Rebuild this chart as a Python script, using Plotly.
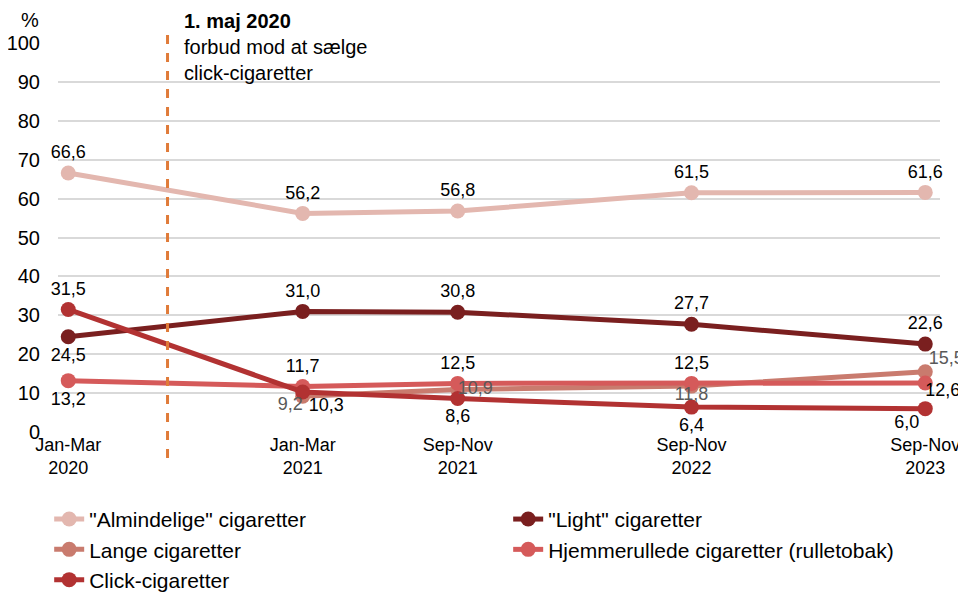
import plotly.graph_objects as go

periods = ["2020-02-15", "2021-02-15", "2021-10-15", "2022-10-15", "2023-10-15"]
period_labels = ["Jan-Mar<br>2020", "Jan-Mar<br>2021", "Sep-Nov<br>2021", "Sep-Nov<br>2022", "Sep-Nov<br>2023"]

almindelige = [66.6, 56.2, 56.8, 61.5, 61.6]
light = [24.5, 31.0, 30.8, 27.7, 22.6]
lange = [None, 9.2, 10.9, 11.8, 15.5]
hjemmerullede = [13.2, 11.7, 12.5, 12.5, 12.6]
click = [31.5, 10.3, 8.6, 6.4, 6.0]

ban_date = "2020-07-19"

FONT = "Liberation Sans, Arial, sans-serif"


def fmt(values):
    return ["" if v is None else f"{v:.1f}".replace(".", ",") for v in values]


# name, values, colour, label position, label gap (px, via hidden marker), label colour
series = [
    ('"Almindelige" cigaretter', almindelige, '#E3B7AF', ["top center"] * 5, [15] * 5, '#000000'),
    ('"Light" cigaretter', light, '#7A1F1F',
     ["bottom center", "top center", "top center", "top center", "top center"], [15] * 5, '#000000'),
    ('Lange cigaretter', lange, '#C97B6E',
     ["bottom left", "bottom left", "middle right", "bottom center", "top right"], [0, 0, 0, 0, 4], '#595959'),
    ('Hjemmerullede cigaretter (rulletobak)', hjemmerullede, '#D55A5A',
     ["bottom center", "top center", "top center", "top center", "bottom right"], [15, 15, 15, 15, 0], '#000000'),
    ('Click-cigaretter', click, '#B23232',
     ["top center", "bottom right", "bottom center", "bottom center", "bottom left"], [15, 8, 15, 15, 8], '#000000'),
]

fig = go.Figure()
for name, values, color, positions, gaps, text_color in series:
    fig.add_trace(
        go.Scatter(
            x=periods, y=values, name=name, mode='lines+markers',
            line=dict(color=color, width=5), marker=dict(color=color, size=15),
            connectgaps=False,
        )
    )

# data labels drawn last so they sit on top of every line, like in the original
for name, values, color, positions, gaps, text_color in series:
    fig.add_trace(
        go.Scatter(
            x=periods, y=values, mode='markers+text', showlegend=False, hoverinfo='skip',
            text=fmt(values), textposition=positions,
            textfont=dict(family=FONT, size=18, color=text_color),
            marker=dict(size=gaps, opacity=0), cliponaxis=False,
        )
    )

# ban on click-cigarettes
fig.add_shape(
    type='line', x0=ban_date, x1=ban_date, y0=-0.067, y1=1.033, xref='x', yref='paper',
    line=dict(color='#E07B39', width=3, dash='dash'),
)
fig.add_annotation(
    x=ban_date, y=1.09, xref='x', yref='paper', xanchor='left', yanchor='top', xshift=14,
    text='<b>1. maj 2020</b><br>forbud mod at sælge<br>click-cigaretter',
    showarrow=False, align='left', font=dict(family=FONT, size=20, color='#000000'),
)
fig.add_annotation(
    x=0, y=1.0, xref='paper', yref='paper', xanchor='center', yanchor='middle', xshift=-28, yshift=23,
    text='%', showarrow=False, font=dict(family=FONT, size=20, color='#000000'),
)

fig.update_xaxes(
    type='date', range=["2020-01-30", "2023-11-07"], tickmode='array', tickvals=periods,
    ticktext=period_labels, showgrid=False, zeroline=False, showline=False, ticks='',
    tickfont=dict(family=FONT, size=18, color='#000000'),
)
fig.update_yaxes(
    range=[0, 100], dtick=10, showgrid=True, gridcolor='#D9D9D9', gridwidth=1.5,
    zeroline=False, showline=False, ticks='', ticklabelstandoff=17,
    tickfont=dict(family=FONT, size=20, color='#000000'),
)
fig.update_layout(
    width=958, height=584, plot_bgcolor='white', paper_bgcolor='white',
    margin=dict(l=50, r=26, t=35, b=160, autoexpand=False),
    font=dict(family=FONT, color='#000000'),
    showlegend=True,
    legend=dict(
        orientation='h', x=-0.01, y=-0.172, xanchor='left', yanchor='top', entrywidth=414,
        font=dict(family=FONT, size=21, color='#000000'), tracegroupgap=0,
    ),
)

fig.write_html("out.html")
